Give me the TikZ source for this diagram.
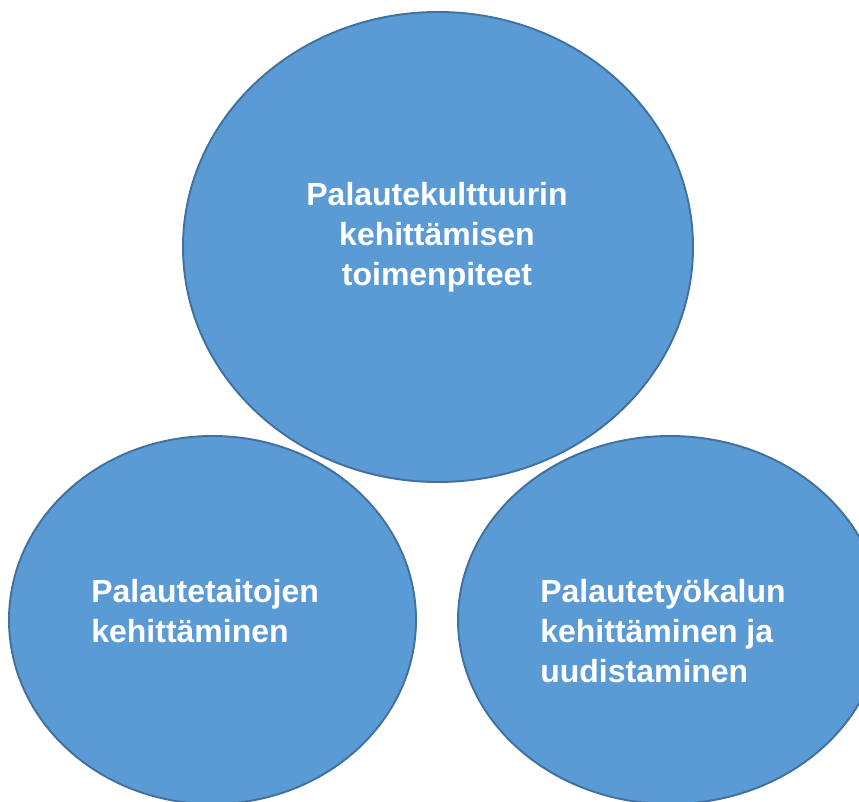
\documentclass[tikz,border=0pt]{standalone}
\usepackage{fontspec}
\setmainfont{Liberation Sans}
\usepackage{xcolor}
\usetikzlibrary{positioning}
\definecolor{Bubble}{RGB}{91, 155, 213}
\definecolor{BubbleEdge}{RGB}{65, 113, 156}

\begin{document}
\begin{tikzpicture}[
    bubble/.style={fill=Bubble, draw=BubbleEdge, line width=1.1pt},
    label/.style={text=white, font=\fontsize{18.2}{22.8}\selectfont\bfseries, inner sep=0pt}
  ]
            \useasboundingbox (0,0) rectangle (17.18,16.02);
            \clip (0,0) rectangle (17.18,16.02);

            \draw[bubble] (8.76, 11.08) ellipse (5.10 and 4.70);
            \node (culture) at (8.74, 11.28) [label, align=center] {Palautekulttuurin\\kehittämisen\\toimenpiteet};

            \draw[bubble] (4.25, 3.62) ellipse (4.07 and 3.68);
            \node (skills) at (1.82, 3.80) [label, anchor=west, align=left] {Palautetaitojen\\kehittäminen};

            \draw[bubble] (13.40, 3.62) ellipse (4.24 and 3.68);
            \node (tool) at (10.80, 3.40) [label, anchor=west, align=left] {Palautetyökalun\\kehittäminen ja\\uudistaminen};
        \end{tikzpicture}
\end{document}
